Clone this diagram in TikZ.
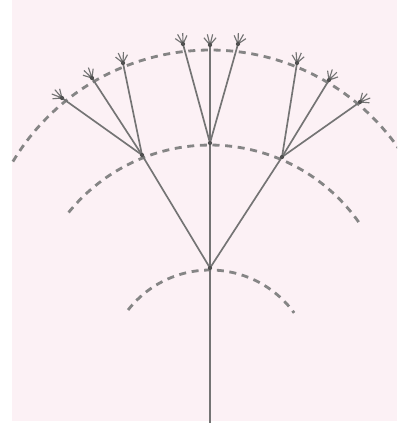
\documentclass[tikz,border=0pt]{standalone}
\usetikzlibrary{calc}
\definecolor{bgpink}{HTML}{FCF1F5}
\definecolor{stemgray}{HTML}{747474}
\definecolor{dashgray}{HTML}{858585}
\definecolor{jointgray}{HTML}{505050}
\tikzset{
  stem/.style={draw=stemgray, line width=0.95pt},
  dasharc/.style={draw=dashgray, line width=1.6pt, dash pattern=on 4pt off 3.2pt},
  floret/.style={draw=stemgray, line width=0.65pt},
  joint/.style={circle, fill=jointgray, inner sep=0pt, minimum size=2.4pt},
}
\begin{document}
\begin{tikzpicture}[x=0.02cm,y=-0.02cm]
\fill[white] (0,0) rectangle (397,423);
\fill[bgpink] (12,0) rectangle (397,421);
\useasboundingbox (0,0) rectangle (397,423);
\clip (0,0) rectangle (397,423);

% arc centres
\coordinate (c1) at (210,374);
\coordinate (c2) at (210,327);
\coordinate (c3) at (210,280);

% dashed arcs
\draw[dasharc] ([shift={(142:2.08cm)}]c1) arc[start angle=142,end angle=36,radius=2.08cm];
\draw[dasharc] ([shift={(141:3.64cm)}]c2) arc[start angle=141,end angle=35,radius=3.64cm];
\draw[dasharc] ([shift={(149:4.6cm)}]c3) arc[start angle=149,end angle=30,radius=4.6cm];

% structure points
\coordinate (base) at (210,423);
\coordinate (n1) at (210,268);
\coordinate (nL) at (142,155);
\coordinate (nC) at (210,143);
\coordinate (nR) at (282,157);
\coordinate (tL1) at (62,98);
\coordinate (tL2) at (92,78);
\coordinate (tL3) at (123,63);
\coordinate (tC1) at (183,44);
\coordinate (tC2) at (210,45);
\coordinate (tC3) at (238,44);
\coordinate (tR1) at (297,63);
\coordinate (tR2) at (329,80);
\coordinate (tR3) at (360,102);

% stems
\draw[stem] (base) -- (n1) -- (nC) -- (tC2);
\draw[stem] (n1) -- (nL);
\draw[stem] (n1) -- (nR);
\foreach \ti/\pa in {tL1/nL,tL2/nL,tL3/nL,tC1/nC,tC3/nC,tR1/nR,tR2/nR,tR3/nR}
  \draw[stem] (\pa) -- (\ti);

% florets
\foreach \ti/\pa in {tL1/nL,tL2/nL,tL3/nL,tC1/nC,tC2/nC,tC3/nC,tR1/nR,tR2/nR,tR3/nR}{
  \draw[floret] let \p1=($(\ti)-(\pa)$), \n1={atan2(\y1,\x1)} in
    (\ti) -- +(\n1-40:0.19cm)
    (\ti) -- +(\n1-14:0.22cm)
    (\ti) -- +(\n1+14:0.22cm)
    (\ti) -- +(\n1+40:0.19cm);
  \node[joint] at (\ti) {};
}
\foreach \j in {n1,nL,nC,nR}
  \node[joint] at (\j) {};
\end{tikzpicture}
\end{document}
